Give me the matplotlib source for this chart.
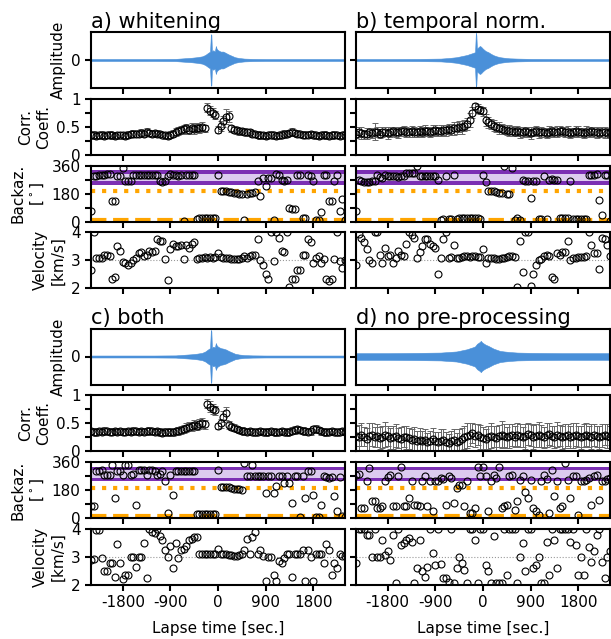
import matplotlib.pyplot as plt
import numpy as np

# lapse time of each analysis window [s], one window every 50 s
lapse = np.arange(-2400, 2401, 50)

# waveform envelopes (normalised amplitude)
wave_t = [-2400, -1800, -1200, -800, -650, -500, -400, -300, -240, -190, -150, -135,
          -125, -115, -90, -60, -40, -25, 0, 50, 100, 150, 200, 260, 320, 400, 500,
          650, 900, 1500, 2400]
env_a = [0.035, 0.035, 0.035, 0.04, 0.06, 0.08, 0.10, 0.13, 0.18, 0.25, 0.30, 0.92,
         0.90, 0.30, 0.35, 0.30, 0.50, 0.40, 0.35, 0.30, 0.30, 0.25, 0.20, 0.15, 0.10,
         0.07, 0.05, 0.04, 0.035, 0.035, 0.035]
env_b = [0.035, 0.035, 0.04, 0.05, 0.07, 0.10, 0.14, 0.18, 0.22, 0.25, 0.28, 0.98,
         0.88, 0.40, 0.45, 0.50, 0.48, 0.45, 0.40, 0.32, 0.28, 0.22, 0.17, 0.13, 0.10,
         0.08, 0.06, 0.05, 0.04, 0.035, 0.035]
env_c = [0.035, 0.035, 0.035, 0.04, 0.06, 0.08, 0.10, 0.13, 0.18, 0.25, 0.30, 0.95,
         0.90, 0.30, 0.35, 0.32, 0.48, 0.40, 0.35, 0.30, 0.28, 0.25, 0.20, 0.15, 0.10,
         0.07, 0.05, 0.04, 0.035, 0.035, 0.035]
env_d = [0.12, 0.12, 0.13, 0.14, 0.16, 0.18, 0.22, 0.26, 0.30, 0.33, 0.36, 0.40,
         0.42, 0.45, 0.48, 0.52, 0.56, 0.52, 0.48, 0.42, 0.38, 0.33, 0.28, 0.24, 0.20,
         0.18, 0.16, 0.14, 0.13, 0.12, 0.12]

# a) whitening
corr_a = [0.35, 0.36, 0.34, 0.35, 0.36, 0.34, 0.35, 0.36, 0.35, 0.34,
          0.35, 0.36, 0.35, 0.34, 0.36, 0.37, 0.38, 0.37, 0.38, 0.39,
          0.38, 0.40, 0.39, 0.38, 0.39, 0.38, 0.37, 0.36, 0.35, 0.34,
          0.36, 0.38, 0.40, 0.42, 0.44, 0.46, 0.47, 0.45, 0.48, 0.46,
          0.48, 0.47, 0.49, 0.47, 0.84, 0.79, 0.75, 0.71, 0.45, 0.51,
          0.60, 0.68, 0.69, 0.47, 0.45, 0.44, 0.42, 0.42, 0.41, 0.40,
          0.40, 0.38, 0.37, 0.36, 0.35, 0.35, 0.34, 0.35, 0.36, 0.35,
          0.34, 0.35, 0.36, 0.37, 0.38, 0.39, 0.40, 0.39, 0.38, 0.37,
          0.36, 0.35, 0.36, 0.37, 0.36, 0.35, 0.34, 0.35, 0.36, 0.35,
          0.34, 0.35, 0.36, 0.35, 0.34, 0.35, 0.36]
err_a = [0.06, 0.06, 0.05, 0.06, 0.06, 0.06, 0.05, 0.06, 0.06, 0.06,
         0.06, 0.05, 0.06, 0.06, 0.06, 0.06, 0.07, 0.06, 0.06, 0.07,
         0.06, 0.07, 0.06, 0.06, 0.06, 0.06, 0.06, 0.05, 0.06, 0.06,
         0.06, 0.06, 0.07, 0.07, 0.07, 0.08, 0.08, 0.07, 0.08, 0.09,
         0.08, 0.08, 0.09, 0.07, 0.08, 0.08, 0.08, 0.07, 0.06, 0.09,
         0.10, 0.13, 0.10, 0.07, 0.06, 0.06, 0.06, 0.06, 0.06, 0.06,
         0.06, 0.06, 0.05, 0.06, 0.06, 0.06, 0.06, 0.05, 0.06, 0.06,
         0.06, 0.06, 0.06, 0.07, 0.07, 0.06, 0.07, 0.06, 0.06, 0.06,
         0.06, 0.05, 0.06, 0.06, 0.06, 0.06, 0.06, 0.05, 0.06, 0.06,
         0.06, 0.06, 0.06, 0.05, 0.06, 0.06, 0.06]
baz_a = [70, 295, 295, 297, 300, 302, 305, 305, 130, 130,
         290, 290, 345, 260, 262, 260, 300, 300, 302, 300,
         300, 302, 300, 300, 298, 300, 258, 255, 258, 290,
         305, 300, 298, 295, 300, 6, 298, 300, 302, 302,
         15, 20, 21, 21, 21, 21, 20, 20, 302, 195,
         195, 195, 190, 188, 185, 182, 180, 178, 8, 180,
         182, 185, 190, 258, 165, 280, 226, 280, 280, 10,
         305, 298, 270, 262, 270, 88, 80, 80, 300, 300,
         22, 20, 298, 295, 262, 12, 10, 60, 300, 300,
         130, 130, 262, 300, 70, 145, 12]
vel_a = [2.65, 4.0, 3.1, 3.1, 3.1, 3.2, 3.2, 3.15, 2.35, 2.4,
         3.5, 3.35, 2.95, 2.9, 2.85, 2.9, 3.0, 3.1, 3.25, 3.3,
         3.15, 3.2, 3.35, 3.3, 3.35, 3.75, 3.7, 3.7, 3.05, 2.3,
         3.4, 3.6, 3.5, 3.5, 3.55, 3.05, 3.55, 3.45, 3.6, 3.65,
         3.05, 3.1, 3.1, 3.12, 3.1, 3.12, 3.1, 3.12, 3.25, 3.12,
         3.1, 3.1, 3.08, 3.05, 3.05, 3.05, 3.05, 3.1, 3.15, 3.1,
         3.15, 3.2, 3.2, 3.75, 3.0, 2.85, 2.5, 2.35, 4.0, 2.98,
         4.0, 3.8, 3.35, 3.3, 4.0, 2.05, 2.35, 2.35, 2.65, 2.65,
         3.2, 3.2, 3.75, 3.65, 2.9, 3.1, 3.15, 2.9, 3.05, 2.35,
         2.25, 2.35, 3.05, 4.0, 2.98, 2.72, 3.0]

# b) temporal normalisation
corr_b = [0.38, 0.40, 0.39, 0.37, 0.38, 0.40, 0.39, 0.41, 0.40, 0.38,
          0.40, 0.41, 0.39, 0.40, 0.42, 0.41, 0.40, 0.42, 0.43, 0.41,
          0.40, 0.42, 0.41, 0.40, 0.42, 0.41, 0.43, 0.42, 0.41, 0.43,
          0.44, 0.42, 0.43, 0.45, 0.44, 0.46, 0.45, 0.47, 0.48, 0.50,
          0.49, 0.52, 0.55, 0.62, 0.75, 0.87, 0.82, 0.80, 0.78, 0.62,
          0.58, 0.55, 0.52, 0.50, 0.48, 0.46, 0.45, 0.44, 0.43, 0.42,
          0.41, 0.42, 0.40, 0.41, 0.42, 0.40, 0.39, 0.41, 0.42, 0.40,
          0.41, 0.40, 0.39, 0.41, 0.42, 0.40, 0.41, 0.43, 0.42, 0.40,
          0.41, 0.39, 0.40, 0.42, 0.41, 0.40, 0.39, 0.41, 0.40, 0.42,
          0.41, 0.40, 0.39, 0.41, 0.40, 0.39, 0.40]
err_b = [0.08, 0.09, 0.10, 0.08, 0.09, 0.08, 0.09, 0.15, 0.09, 0.08,
         0.09, 0.08, 0.10, 0.09, 0.08, 0.09, 0.10, 0.08, 0.09, 0.09,
         0.08, 0.10, 0.09, 0.08, 0.09, 0.09, 0.10, 0.08, 0.09, 0.10,
         0.09, 0.08, 0.10, 0.09, 0.10, 0.09, 0.10, 0.11, 0.10, 0.10,
         0.11, 0.10, 0.10, 0.12, 0.10, 0.06, 0.08, 0.08, 0.08, 0.10,
         0.10, 0.09, 0.10, 0.09, 0.10, 0.09, 0.08, 0.09, 0.10, 0.09,
         0.08, 0.09, 0.10, 0.09, 0.08, 0.09, 0.10, 0.08, 0.09, 0.10,
         0.09, 0.08, 0.09, 0.10, 0.08, 0.09, 0.10, 0.09, 0.08, 0.09,
         0.10, 0.09, 0.08, 0.09, 0.10, 0.08, 0.09, 0.10, 0.09, 0.08,
         0.09, 0.10, 0.08, 0.09, 0.10, 0.09, 0.08]
baz_b = [69, 270, 260, 254, 252, 255, 259, 262, 302, 285,
         280, 302, 290, 290, 292, 290, 288, 290, 292, 312,
         312, 310, 312, 355, 296, 295, 295, 296, 295, 295,
         296, 270, 12, 15, 295, 16, 18, 300, 18, 20,
         21, 20, 22, 21, 20, 21, 20, 18, 302, 252,
         195, 195, 194, 190, 185, 182, 355, 180, 178, 345,
         12, 21, 10, 265, 262, 259, 151, 262, 259, 15,
         16, 295, 18, 270, 272, 268, 270, 21, 20, 21,
         22, 259, 15, 14, 15, 16, 15, 14, 300, 298,
         302, 305, 140, 43, 300, 300, 2]
vel_b = [2.85, 3.94, 3.8, 3.64, 3.4, 3.03, 2.9, 4.0, 4.0, 3.2,
         2.9, 3.45, 3.15, 3.2, 2.9, 3.1, 3.33, 3.2, 3.15, 3.6,
         4.0, 3.9, 3.8, 3.1, 3.3, 3.5, 3.75, 3.75, 3.6, 3.5,
         3.45, 2.5, 3.1, 3.75, 4.0, 3.1, 3.12, 3.55, 3.1, 3.1,
         3.12, 3.15, 3.15, 3.12, 3.15, 3.15, 3.12, 3.12, 3.4, 2.9,
         3.1, 3.1, 3.08, 3.05, 3.05, 3.08, 3.1, 3.12, 3.15, 3.15,
         3.12, 2.05, 3.7, 2.6, 4.0, 4.0, 2.1, 2.5, 2.85, 3.0,
         3.05, 3.15, 3.2, 3.15, 2.4, 2.35, 3.25, 3.2, 3.3, 3.3,
         3.7, 3.0, 3.1, 3.1, 3.12, 3.12, 3.12, 3.15, 4.0, 3.55,
         3.25, 3.25, 2.7, 3.8, 3.75, 3.55, 3.15]

# c) both
corr_c = [0.36, 0.35, 0.34, 0.36, 0.35, 0.37, 0.36, 0.35, 0.34, 0.36,
          0.35, 0.36, 0.35, 0.34, 0.36, 0.35, 0.37, 0.36, 0.35, 0.36,
          0.35, 0.36, 0.37, 0.36, 0.35, 0.36, 0.34, 0.33, 0.35, 0.34,
          0.35, 0.34, 0.36, 0.37, 0.38, 0.40, 0.42, 0.44, 0.45, 0.47,
          0.46, 0.48, 0.50, 0.48, 0.85, 0.80, 0.75, 0.73, 0.45, 0.50,
          0.62, 0.68, 0.47, 0.44, 0.42, 0.40, 0.38, 0.37, 0.36, 0.35,
          0.36, 0.35, 0.34, 0.35, 0.36, 0.35, 0.34, 0.35, 0.36, 0.35,
          0.34, 0.35, 0.36, 0.35, 0.34, 0.35, 0.37, 0.38, 0.39, 0.38,
          0.37, 0.36, 0.35, 0.36, 0.39, 0.40, 0.38, 0.36, 0.35, 0.34,
          0.35, 0.36, 0.35, 0.34, 0.35, 0.36, 0.35]
err_c = [0.05, 0.06, 0.06, 0.06, 0.05, 0.06, 0.06, 0.06, 0.05, 0.06,
         0.06, 0.06, 0.06, 0.05, 0.06, 0.06, 0.06, 0.06, 0.05, 0.06,
         0.06, 0.06, 0.06, 0.06, 0.05, 0.06, 0.07, 0.06, 0.06, 0.06,
         0.06, 0.06, 0.06, 0.07, 0.07, 0.07, 0.08, 0.08, 0.08, 0.09,
         0.08, 0.09, 0.09, 0.08, 0.08, 0.09, 0.09, 0.08, 0.06, 0.08,
         0.10, 0.12, 0.08, 0.06, 0.06, 0.06, 0.06, 0.06, 0.06, 0.05,
         0.06, 0.06, 0.06, 0.06, 0.05, 0.06, 0.06, 0.06, 0.06, 0.06,
         0.06, 0.05, 0.06, 0.06, 0.06, 0.06, 0.06, 0.07, 0.07, 0.06,
         0.06, 0.06, 0.06, 0.06, 0.07, 0.07, 0.06, 0.06, 0.06, 0.06,
         0.06, 0.05, 0.06, 0.06, 0.06, 0.06, 0.06]
baz_c = [75, 75, 300, 305, 310, 280, 278, 280, 343, 128,
         300, 300, 280, 343, 343, 280, 285, 86, 310, 310,
         310, 280, 310, 310, 300, 280, 282, 300, 236, 32,
         280, 150, 300, 300, 300, 302, 300, 300, 302, 300,
         26, 26, 26, 28, 26, 26, 25, 26, 310, 200,
         200, 200, 198, 195, 188, 186, 184, 182, 353, 268,
         268, 343, 268, 268, 268, 268, 160, 268, 268, 160,
         204, 268, 268, 225, 268, 225, 96, 268, 268, 10,
         268, 128, 300, 300, 150, 10, 10, 86, 268, 262,
         257, 262, 140, 43, 262, 15, 10]
vel_c = [2.9, 2.92, 3.96, 3.96, 2.95, 2.5, 2.48, 2.8, 2.8, 2.3,
         3.45, 2.8, 2.2, 2.35, 2.35, 3.0, 3.0, 2.65, 3.0, 3.0,
         3.5, 2.25, 4.0, 3.9, 3.85, 4.0, 3.75, 3.6, 3.25, 3.0,
         3.4, 2.6, 3.5, 2.95, 3.25, 3.3, 3.4, 3.6, 3.65, 3.7,
         3.7, 3.1, 3.1, 3.12, 3.1, 3.12, 3.12, 3.1, 3.3, 3.1,
         3.1, 3.1, 3.08, 3.08, 3.05, 3.05, 3.08, 3.1, 3.25, 3.65,
         3.1, 3.7, 3.9, 3.1, 3.25, 3.05, 2.15, 3.0, 3.0, 2.35,
         2.15, 2.85, 2.8, 2.95, 3.1, 3.1, 2.3, 3.1, 3.12, 3.1,
         3.25, 2.15, 3.25, 3.0, 2.15, 3.1, 3.1, 3.1, 2.8, 3.45,
         3.25, 2.35, 2.8, 2.6, 3.1, 3.05, 3.05]

# d) no pre-processing
corr_d = [0.28, 0.25, 0.30, 0.26, 0.22, 0.27, 0.30, 0.25, 0.28, 0.24,
          0.26, 0.30, 0.27, 0.23, 0.25, 0.28, 0.24, 0.22, 0.26, 0.25,
          0.23, 0.20, 0.22, 0.19, 0.21, 0.18, 0.20, 0.17, 0.19, 0.22,
          0.18, 0.16, 0.19, 0.21, 0.17, 0.15, 0.18, 0.20, 0.16, 0.19,
          0.22, 0.25, 0.28, 0.30, 0.32, 0.28, 0.30, 0.26, 0.24, 0.22,
          0.25, 0.28, 0.26, 0.24, 0.27, 0.30, 0.28, 0.25, 0.27, 0.29,
          0.26, 0.30, 0.28, 0.25, 0.27, 0.31, 0.29, 0.26, 0.28, 0.30,
          0.27, 0.25, 0.29, 0.31, 0.28, 0.26, 0.30, 0.28, 0.25, 0.27,
          0.29, 0.26, 0.28, 0.30, 0.27, 0.25, 0.28, 0.30, 0.27, 0.26,
          0.29, 0.27, 0.25, 0.28, 0.30, 0.27, 0.26]
err_d = [0.18, 0.22, 0.20, 0.17, 0.19, 0.24, 0.20, 0.18, 0.21, 0.19,
         0.20, 0.23, 0.18, 0.19, 0.21, 0.20, 0.18, 0.22, 0.19, 0.20,
         0.18, 0.19, 0.21, 0.17, 0.20, 0.18, 0.19, 0.16, 0.18, 0.20,
         0.17, 0.18, 0.20, 0.19, 0.17, 0.16, 0.18, 0.19, 0.17, 0.20,
         0.19, 0.21, 0.22, 0.20, 0.18, 0.20, 0.19, 0.21, 0.20, 0.18,
         0.20, 0.22, 0.19, 0.21, 0.20, 0.24, 0.20, 0.19, 0.21, 0.20,
         0.19, 0.21, 0.20, 0.18, 0.22, 0.20, 0.19, 0.21, 0.20, 0.22,
         0.20, 0.19, 0.21, 0.20, 0.18, 0.20, 0.22, 0.19, 0.20, 0.21,
         0.19, 0.20, 0.22, 0.21, 0.19, 0.20, 0.21, 0.20, 0.19, 0.22,
         0.20, 0.19, 0.21, 0.20, 0.18, 0.21, 0.20]
baz_d = [280, 285, 64, 64, 236, 320, 107, 107, 64, 64,
         75, 236, 264, 278, 75, 75, 268, 330, 75, 75,
         128, 236, 86, 86, 75, 236, 268, 75, 236, 43,
         236, 236, 257, 250, 86, 268, 260, 96, 193, 214,
         214, 75, 236, 32, 32, 64, 330, 268, 330, 268,
         43, 236, 278, 257, 330, 64, 75, 86, 268, 278,
         54, 107, 246, 268, 171, 128, 246, 64, 43, 21,
         236, 278, 250, 32, 310, 139, 236, 64, 75, 357,
         246, 128, 268, 268, 21, 236, 236, 246, 260, 86,
         268, 278, 118, 236, 236, 250, 260]
vel_d = [2.8, 4.0, 4.0, 4.0, 3.8, 3.8, 3.0, 4.0, 3.0, 3.0,
         3.6, 3.07, 3.2, 2.9, 3.8, 2.06, 4.0, 3.43, 3.5, 3.6,
         3.67, 3.55, 2.06, 2.6, 3.6, 2.5, 2.3, 2.65, 4.0, 3.13,
         2.7, 4.0, 2.75, 2.24, 2.24, 2.1, 4.0, 2.06, 2.6, 3.0,
         2.8, 2.54, 2.06, 4.0, 4.0, 3.6, 2.06, 4.0, 4.0, 2.7,
         2.48, 2.06, 3.73, 2.06, 2.06, 2.06, 4.0, 2.36, 4.0, 4.0,
         4.0, 2.06, 3.0, 3.5, 2.48, 4.0, 4.0, 2.6, 2.7, 3.0,
         2.06, 2.06, 3.55, 2.36, 4.0, 3.6, 2.6, 4.0, 4.0, 4.0,
         4.0, 3.55, 4.0, 3.43, 2.36, 3.0, 2.36, 4.0, 3.37, 2.83,
         3.2, 3.8, 4.0, 2.83, 2.24, 3.0, 3.2]

titles = ['a) whitening', 'b) temporal norm.', 'c) both', 'd) no pre-processing']
panels = [(env_a, corr_a, err_a, baz_a, vel_a),
          (env_b, corr_b, err_b, baz_b, vel_b),
          (env_c, corr_c, err_c, baz_c, vel_c),
          (env_d, corr_d, err_d, baz_d, vel_d)]

plt.rcParams['font.size'] = 11
plt.rcParams['axes.linewidth'] = 1.5
plt.rcParams['xtick.major.width'] = 1.5
plt.rcParams['ytick.major.width'] = 1.5

W, H = 611, 639
fig = plt.figure(figsize=(W / 100, H / 100), dpi=100)

def px_axes(x0, top, w=254, h=56):
    return fig.add_axes([x0 / W, 1 - (top + h) / H, w / W, h / H])

col_x = [91, 356]
group_top = [32, 328.5]
step = 66.8
mk = dict(marker='o', ls='none', mfc='none', mec='k', ms=5, mew=0.8)

for i, (env, corr, err, baz, vel) in enumerate(panels):
    x0 = col_x[i % 2]
    top = group_top[i // 2]
    left = (i % 2 == 0)
    bottom = (i // 2 == 1)
    axs = [px_axes(x0, top + j * step) for j in range(4)]

    # waveform
    ax = axs[0]
    env = np.array(env)
    ax.fill_between(wave_t, -env, env, color='#4a90d9', lw=0.4)
    ax.set_ylim(-1, 1)
    ax.set_yticks([0])
    ax.set_title(titles[i], loc='left', fontsize=15, pad=3)

    # correlation coefficient
    ax = axs[1]
    ax.errorbar(lapse, corr, yerr=err, fmt='none', ecolor='0.4', elinewidth=0.7,
                capsize=2, capthick=0.7)
    ax.plot(lapse, corr, **mk)
    ax.set_ylim(0, 1)
    ax.set_yticks([0, 0.25, 0.5, 0.75, 1])
    ax.set_yticklabels(['0', '', '0.5', '', '1'])

    # backazimuth
    ax = axs[2]
    ax.axhspan(237, 330, color='#7b2fb3', lw=0)
    ax.axhspan(261, 308, color='#dccbef', lw=0)
    ax.axhline(195, color='orange', ls=':', lw=3)
    ax.axhline(13, color='orange', ls='--', lw=3)
    ax.plot(lapse, baz, **mk)
    ax.set_ylim(0, 360)
    ax.set_yticks([0, 90, 180, 270, 360])
    ax.set_yticklabels(['0', '', '180', '', '360'])

    # velocity
    ax = axs[3]
    ax.axhline(3, color='0.6', ls=':', lw=0.8)
    ax.plot(lapse, vel, **mk)
    ax.set_ylim(2, 4)
    ax.set_yticks([2, 3, 4])

    for ax in axs:
        ax.set_xlim(-2400, 2400)
        ax.set_xticks([-1800, -900, 0, 900, 1800])
        ax.tick_params(direction='out', length=4)
        ax.set_xticklabels([])
    if bottom:
        axs[3].set_xticklabels(['-1800', '-900', '0', '900', '1800'])
        axs[3].set_xlabel('Lapse time [sec.]', labelpad=8)
    if left:
        axs[0].set_ylabel('Amplitude')
        axs[1].set_ylabel('Corr.\nCoeff.')
        axs[2].set_ylabel('Backaz.\n[$^\\circ$]')
        axs[3].set_ylabel('Velocity\n[km/s]')
    else:
        for ax in axs:
            ax.set_yticklabels([])

fig.savefig('out.png', dpi=100)
